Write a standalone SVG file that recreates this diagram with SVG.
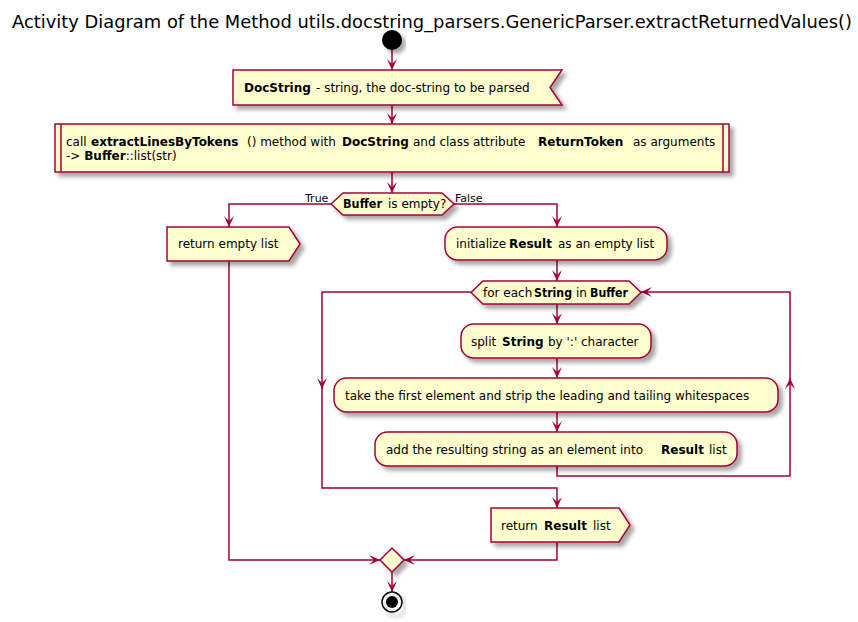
<svg xmlns="http://www.w3.org/2000/svg" width="858" height="622" viewBox="0 0 858 622">
<style>
.n{fill:#FEFECE;stroke:#A80036;stroke-width:1.5;filter:url(#sh)}
.t{font-family:"DejaVu Sans",sans-serif;font-size:12px;fill:#000;white-space:pre}
.b{font-weight:bold}
.c{fill:none;stroke:#A80036;stroke-width:1.5;marker-end:url(#ah)}
.cl{fill:none;stroke:#A80036;stroke-width:1.5}
.lbl{font-family:"DejaVu Sans",sans-serif;font-size:11px;fill:#000}
</style>
<defs>
<filter id="sh" x="-10%" y="-20%" width="130%" height="160%">
<feGaussianBlur in="SourceAlpha" stdDeviation="2"/>
<feOffset dx="4" dy="4" result="o"/>
<feComponentTransfer><feFuncA type="linear" slope="0.35"/></feComponentTransfer>
<feMerge><feMergeNode/><feMergeNode in="SourceGraphic"/></feMerge>
</filter>
<marker id="ah" viewBox="0 0 11 10" refX="11" refY="5" markerWidth="11" markerHeight="10" markerUnits="userSpaceOnUse" orient="auto">
<path d="M0,0 L11,5 L0,10 L5,5 Z" fill="#A80036"/>
</marker>
</defs>
<rect width="858" height="622" fill="#fff"/>
<text x="12" y="28" font-family="DejaVu Sans,sans-serif" font-size="18" textLength="840" lengthAdjust="spacingAndGlyphs">Activity Diagram of the Method utils.docstring_parsers.GenericParser.extractReturnedValues()</text>

<g id="connectors">
<path class="c" d="M392,50 V70"/>
<path class="c" d="M392,105 V124"/>
<path class="c" d="M392,172 V193"/>
<path class="c" d="M331,204 H229 V227"/>
<path class="c" d="M454,204 H557 V227"/>
<path class="c" d="M229,261 V560 H380"/>
<path class="c" d="M557,260 V281"/>
<path class="c" d="M557,304 V324"/>
<path class="c" d="M557,358 V378"/>
<path class="c" d="M557,412 V432"/>
<path class="c" d="M557,466 V476 H790 V378"/>
<path class="c" d="M790,379 V292 H641"/>
<path class="c" d="M471,292 H322 V389"/>
<path class="c" d="M322,388 V488 H557 V508"/>
<path class="c" d="M557,542 V560 H404"/>
<path class="c" d="M392,572 V592"/>
<text class="lbl" x="305" y="202">True</text>
<text class="lbl" x="455" y="202">False</text>
</g>

<g id="start"><circle cx="392" cy="40" r="10" fill="#000" filter="url(#sh)"/></g>

<g id="docstring">
<path class="n" d="M233,70 H562 L550,87.5 L562,105 H233 Z"/>
<text class="t" x="244" y="92"><tspan class="b">DocString</tspan><tspan x="316">- string, the doc-string to be parsed</tspan></text>
</g>

<g id="call">
<rect class="n" x="55" y="124" width="674" height="48"/>
<path class="cl" d="M61,124 V172 M723,124 V172"/>
<text class="t" x="66" y="146">call <tspan class="b" x="91">extractLinesByTokens</tspan><tspan x="247">() method with</tspan><tspan class="b" x="342">DocString</tspan><tspan x="413">and class attribute</tspan><tspan class="b" x="538">ReturnToken</tspan><tspan x="633">as arguments</tspan></text>
<text class="t" x="66" y="160">-&gt; <tspan class="b">Buffer</tspan>::list(str)</text>
</g>

<g id="decision">
<path class="n" d="M343,193 H442 L454,204 L442,215 H343 L331,204 Z"/>
<text class="t" x="343" y="208" font-size="11"><tspan class="b" textLength="39" lengthAdjust="spacingAndGlyphs">Buffer</tspan><tspan x="388">is empty?</tspan></text>
</g>

<g id="return-empty">
<path class="n" d="M167,227 H289 L300,244 L289,261 H167 Z"/>
<text class="t" x="178" y="248">return empty list</text>
</g>

<g id="init-result">
<rect class="n" x="445" y="227" width="222" height="33" rx="12.5"/>
<text class="t" x="456" y="248">initialize <tspan class="b" x="509">Result</tspan><tspan x="558">as an empty list</tspan></text>
</g>

<g id="loop">
<path class="n" d="M483,281 H629 L641,292.5 L629,304 H483 L471,292.5 Z"/>
<text class="t" x="483" y="297" font-size="11">for each<tspan class="b" x="534" textLength="38" lengthAdjust="spacingAndGlyphs">String</tspan><tspan x="576">in</tspan><tspan class="b" x="590" textLength="38" lengthAdjust="spacingAndGlyphs">Buffer</tspan></text>
</g>

<g id="split">
<rect class="n" x="461" y="324" width="190" height="34" rx="12.5"/>
<text class="t" x="471" y="346">split <tspan class="b" x="502">String</tspan><tspan x="548">by ':' character</tspan></text>
</g>

<g id="strip">
<rect class="n" x="334" y="378" width="444" height="34" rx="12.5"/>
<text class="t" x="345" y="400">take the first element and strip the leading and tailing whitespaces</text>
</g>

<g id="add">
<rect class="n" x="375" y="432" width="362" height="34" rx="12.5"/>
<text class="t" x="386" y="454">add the resulting string as an element into<tspan class="b" x="661">Result</tspan><tspan x="709">list</tspan></text>
</g>

<g id="return-result">
<path class="n" d="M491,508 H619 L630,525 L619,542 H491 Z"/>
<text class="t" x="501" y="530">return<tspan class="b" x="544">Result</tspan><tspan x="593">list</tspan></text>
</g>

<g id="merge">
<path class="n" d="M392,548 L404,560 L392,572 L380,560 Z"/>
</g>

<g id="end">
<circle cx="392" cy="602" r="10" fill="none" stroke="#000" stroke-width="1.5" filter="url(#sh)"/>
<circle cx="392" cy="602" r="6" fill="#000"/>
</g>
</svg>
